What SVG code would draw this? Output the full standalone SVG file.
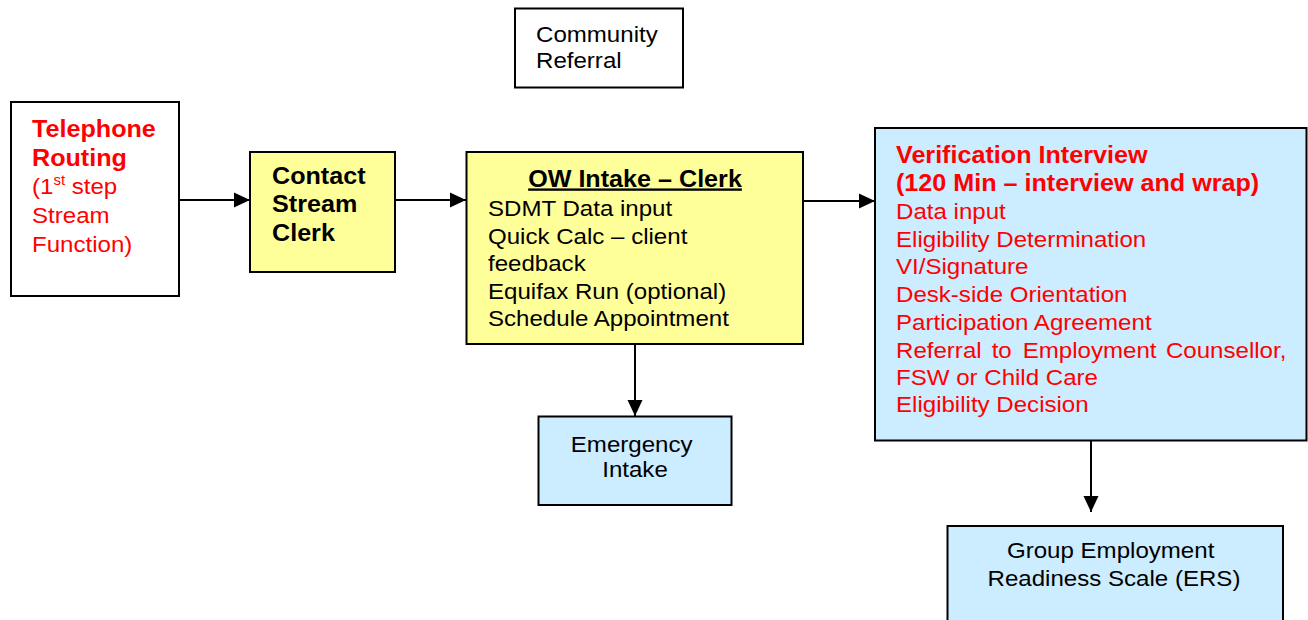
<svg xmlns="http://www.w3.org/2000/svg" width="1308" height="620" viewBox="0 0 1308 620">
  <style>
    .box { stroke: #000; stroke-width: 2; }
    .white { fill: #fff; }
    .yellow { fill: #ffff99; }
    .blue { fill: #ccecff; }
    .t { font-family: "Liberation Sans", Arial, sans-serif; font-size: 22.5px; fill: #000; }
    .b { font-weight: bold; font-size: 23.5px; }
    .red { fill: #ff0000; }
    .mid { text-anchor: middle; }
    .wire { stroke: #000; stroke-width: 2; fill: none; marker-end: url(#arrow); }
  </style>
  <defs>
    <marker id="arrow" markerUnits="userSpaceOnUse" markerWidth="16" markerHeight="16" viewBox="0 0 16 16" refX="16" refY="8" orient="auto">
      <path d="M0,0.5 L16,8 L0,15.5 Z" fill="#000"/>
    </marker>
  </defs>
  <rect width="1308" height="620" fill="#fff"/>

  <!-- connectors -->
  <g id="connectors">
    <line class="wire" x1="179" y1="200" x2="250" y2="200"/>
    <line class="wire" x1="395" y1="200" x2="466" y2="200"/>
    <line class="wire" x1="803" y1="201" x2="875" y2="201"/>
    <line class="wire" x1="635" y1="344" x2="635" y2="416"/>
    <line class="wire" x1="1091" y1="441" x2="1091" y2="512"/>
  </g>

  <g id="community-referral">
    <rect class="box white" x="515" y="8.5" width="168" height="79"/>
    <text class="t" transform="translate(536 42) scale(1.07 1)">
      <tspan x="0" y="0">Community</tspan>
      <tspan x="0" y="26.5">Referral</tspan>
    </text>
  </g>

  <g id="telephone-routing">
    <rect class="box white" x="11" y="102" width="168" height="194"/>
    <text class="t red" transform="translate(32 137) scale(1.07 1)">
      <tspan class="b" x="0" y="0">Telephone</tspan>
      <tspan class="b" x="0" y="28.7">Routing</tspan>
      <tspan x="0" y="57.5">(1</tspan><tspan dy="-9" font-size="14">st</tspan><tspan dy="9"> step</tspan>
      <tspan x="0" y="86.2">Stream</tspan>
      <tspan x="0" y="115">Function)</tspan>
    </text>
  </g>

  <g id="contact-stream-clerk">
    <rect class="box yellow" x="250" y="152" width="145" height="120"/>
    <text class="t b" transform="translate(272 184) scale(1.07 1)">
      <tspan x="0" y="0">Contact</tspan>
      <tspan x="0" y="28.3">Stream</tspan>
      <tspan x="0" y="56.6">Clerk</tspan>
    </text>
  </g>

  <g id="ow-intake-clerk">
    <rect class="box yellow" x="466.5" y="152" width="336.5" height="192"/>
    <text class="t b mid" text-decoration="underline" transform="translate(635 186.5) scale(1.07 1)">OW Intake – Clerk</text>
    <text class="t" transform="translate(488 216) scale(1.07 1)">
      <tspan x="0" y="0">SDMT Data input</tspan>
      <tspan x="0" y="27.6">Quick Calc – client</tspan>
      <tspan x="0" y="55.2">feedback</tspan>
      <tspan x="0" y="82.8">Equifax Run (optional)</tspan>
      <tspan x="0" y="110.4">Schedule Appointment</tspan>
    </text>
  </g>

  <g id="emergency-intake">
    <rect class="box blue" x="538.5" y="416.5" width="193" height="88.5"/>
    <text class="t mid" transform="translate(635 451.5) scale(1.07 1)">
      <tspan x="0" y="0">Emergency</tspan>
      <tspan x="0" y="26">Intake</tspan>
    </text>
  </g>

  <g id="verification-interview">
    <rect class="box blue" x="875" y="128" width="431.5" height="312.5"/>
    <text class="t red" transform="translate(896 162.5) scale(1.07 1)">
      <tspan class="b" x="0" y="0">Verification Interview</tspan>
      <tspan class="b" x="0" y="28.4">(120 Min – interview and wrap)</tspan>
      <tspan x="0" y="56.8">Data input</tspan>
      <tspan x="0" y="85">Eligibility Determination</tspan>
      <tspan x="0" y="111.8">VI/Signature</tspan>
      <tspan x="0" y="140">Desk-side Orientation</tspan>
      <tspan x="0" y="167.5">Participation Agreement</tspan>
      <tspan x="0" y="195.2">Referral</tspan><tspan x="89.4" y="195.2">to</tspan><tspan x="118.4" y="195.2">Employment</tspan><tspan x="252.3" y="195.2">Counsellor,</tspan>
      <tspan x="0" y="223">FSW or Child Care</tspan>
      <tspan x="0" y="249.2">Eligibility Decision</tspan>
    </text>
  </g>

  <g id="group-ers">
    <rect class="box blue" x="947.5" y="526" width="335.5" height="100"/>
    <text class="t mid" transform="translate(1114 558) scale(1.07 1)">
      <tspan x="0" y="0">Group Employment</tspan>
      <tspan x="0" y="28.5">Readiness Scale (ERS)</tspan>
    </text>
  </g>
</svg>
